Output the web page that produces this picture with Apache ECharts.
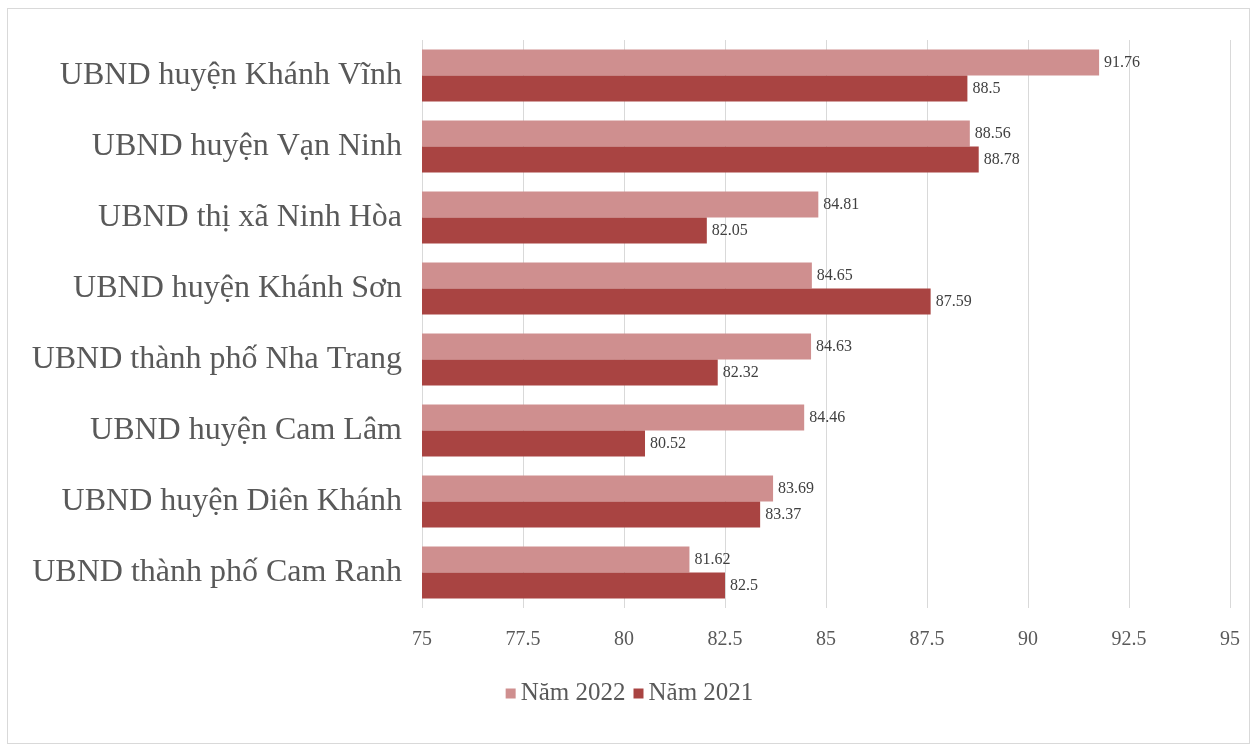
<!DOCTYPE html>
<html>
<head>
<meta charset="utf-8">
<script src="https://cdn.jsdelivr.net/npm/echarts@6/dist/echarts.min.js"></script>
<style>
  html, body { margin: 0; padding: 0; background: #ffffff; }
  #frame { position: absolute; left: 7px; top: 8px; width: 1243px; height: 736px; border: 1px solid #d9d9d9; box-sizing: border-box; }
  #chart { position: absolute; left: 0; top: 0; width: 1259px; height: 753px; }
</style>
</head>
<body>
<div id="frame"></div>
<div id="chart"></div>
<script>
const categories = [
  'UBND huyện Khánh Vĩnh',
  'UBND huyện Vạn Ninh',
  'UBND thị xã Ninh Hòa',
  'UBND huyện Khánh Sơn',
  'UBND thành phố Nha Trang',
  'UBND huyện Cam Lâm',
  'UBND huyện Diên Khánh',
  'UBND thành phố Cam Ranh'
];
const values2022 = [91.76, 88.56, 84.81, 84.65, 84.63, 84.46, 83.69, 81.62];
const values2021 = [88.5, 88.78, 82.05, 87.59, 82.32, 80.52, 83.37, 82.5];
const seriesNames = ['Năm 2022', 'Năm 2021'];

const serif = '"Liberation Serif", "DejaVu Serif", serif';
const chart = echarts.init(document.getElementById('chart'), null, { renderer: 'canvas' });
const labelStyle = { show: true, position: 'right', distance: 5, fontFamily: serif, fontSize: 16, color: '#404040' };
chart.setOption({
  backgroundColor: 'transparent',
  animation: false,
  grid: { left: 422, right: 29, top: 40, bottom: 145, containLabel: false },
  legend: {
    data: seriesNames,
    left: 'center',
    top: 676,
    itemWidth: 10,
    itemHeight: 10,
    itemGap: 8,
    icon: 'rect',
    textStyle: { fontFamily: serif, fontSize: 25, color: '#595959' }
  },
  xAxis: {
    type: 'value',
    min: 75,
    max: 95,
    interval: 2.5,
    axisLine: { show: false },
    axisTick: { show: false },
    splitLine: { show: true, lineStyle: { color: '#d9d9d9', width: 1 } },
    axisLabel: { fontFamily: serif, fontSize: 20, color: '#595959', margin: 22 }
  },
  yAxis: {
    type: 'category',
    data: categories,
    inverse: true,
    axisLine: { show: false },
    axisTick: { show: false },
    axisLabel: { fontFamily: serif, fontSize: 32, color: '#595959', margin: 20 }
  },
  series: [
    {
      name: seriesNames[0], type: 'bar', data: values2022,
      barGap: '0%', barCategoryGap: '27%',
      itemStyle: { color: '#cf8f8f' },
      label: labelStyle
    },
    {
      name: seriesNames[1], type: 'bar', data: values2021,
      barGap: '0%', barCategoryGap: '27%',
      itemStyle: { color: '#a94442' },
      label: labelStyle
    }
  ]
});
</script>
</body>
</html>
